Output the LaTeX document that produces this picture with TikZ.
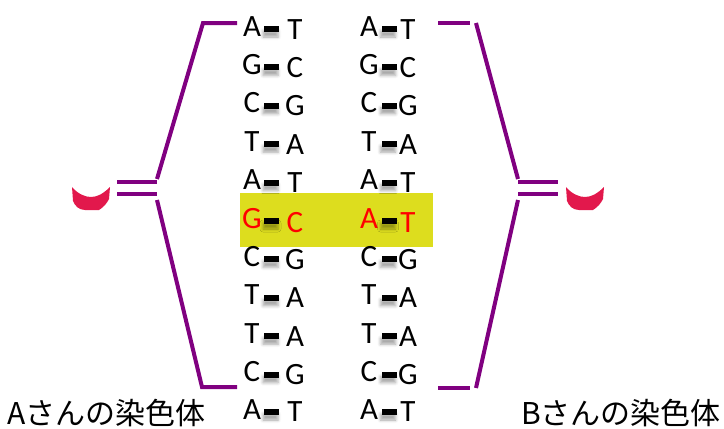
\documentclass[tikz,border=0pt]{standalone}
\usepackage{fontspec}
\setmainfont{Carlito}
\newfontfamily\jpfont{Noto Sans CJK JP}
\usetikzlibrary{shadows.blur}
\definecolor{bracketPurple}{RGB}{128,0,128}
\definecolor{crescentRed}{RGB}{226,24,76}
\definecolor{markYellow}{RGB}{221,221,30}

\begin{document}
\begin{tikzpicture}[x = 1pt, y = -1pt]
	\tikzstyle{baseStyle} = [inner sep = 0pt, text height = 20pt, text depth = 0pt, font = \fontsize{31}{36}\selectfont]
	\tikzstyle{redStyle} = [baseStyle, text = red]
	\tikzstyle{bondStyle} = [fill = black, inner sep = 0pt, minimum width = 15pt, minimum height = 6pt, blur shadow = {shadow xshift = -1pt, shadow yshift = -5pt, shadow blur radius = 3pt, shadow opacity = 35}]
	\tikzstyle{bracketStyle} = [draw = bracketPurple, line width = 4pt]
	\tikzstyle{labelStyle} = [inner sep = 0pt, font = \jpfont\fontsize{30}{36}\selectfont]
	\useasboundingbox (0,0) rectangle (724,429);
	\fill[markYellow] (240,193) rectangle (433,247);
	\draw[bracketStyle] (237,23) -- (203,23) -- (157,179);
	\draw[bracketStyle] (157,200) -- (202,387) -- (237,387);
	\draw[bracketStyle] (117,182) -- (157,182);
	\draw[bracketStyle] (117,194) -- (157,194);
	\draw[bracketStyle] (438,23) -- (470,23);
	\draw[bracketStyle] (476,23) -- (518,179);
	\draw[bracketStyle] (518,200) -- (476,388);
	\draw[bracketStyle] (438,388) -- (470,388);
	\draw[bracketStyle] (518,182) -- (558,182);
	\draw[bracketStyle] (518,194) -- (558,194);
	\fill[crescentRed] (72,187) -- (73,201) .. controls (75,206) and (79,210) .. (85,210) -- (99,210) .. controls (104,207) and (107,203) .. (109,199) -- (110,187) .. controls (103,194) and (97,197) .. (91,197) .. controls (85,197) and (78,194) .. (72,187) -- cycle;
	\fill[crescentRed, xshift = 494pt] (72,187) -- (73,201) .. controls (75,206) and (79,210) .. (85,210) -- (99,210) .. controls (104,207) and (107,203) .. (109,199) -- (110,187) .. controls (103,194) and (97,197) .. (91,197) .. controls (85,197) and (78,194) .. (72,187) -- cycle;
	\node[baseStyle] (aL1) at (252,26.0) {A};
	\node[bondStyle] (aB1) at (271.5,29.0) {};
	\node[baseStyle] (aR1) at (295,29.0) {T};
	\node[baseStyle] (aL2) at (252,64.4) {G};
	\node[bondStyle] (aB2) at (271.5,67.4) {};
	\node[baseStyle] (aR2) at (295,67.4) {C};
	\node[baseStyle] (aL3) at (252,102.8) {C};
	\node[bondStyle] (aB3) at (271.5,105.8) {};
	\node[baseStyle] (aR3) at (295,105.8) {G};
	\node[baseStyle] (aL4) at (252,141.2) {T};
	\node[bondStyle] (aB4) at (271.5,144.2) {};
	\node[baseStyle] (aR4) at (295,144.2) {A};
	\node[baseStyle] (aL5) at (252,179.6) {A};
	\node[bondStyle] (aB5) at (271.5,182.6) {};
	\node[baseStyle] (aR5) at (295,182.6) {T};
	\node[redStyle] (aL6) at (252,218.0) {G};
	\node[bondStyle] (aB6) at (271.5,221.0) {};
	\node[redStyle] (aR6) at (295,222.0) {C};
	\node[baseStyle] (aL7) at (252,256.4) {C};
	\node[bondStyle] (aB7) at (271.5,259.4) {};
	\node[baseStyle] (aR7) at (295,259.4) {G};
	\node[baseStyle] (aL8) at (252,294.8) {T};
	\node[bondStyle] (aB8) at (271.5,297.8) {};
	\node[baseStyle] (aR8) at (295,297.8) {A};
	\node[baseStyle] (aL9) at (252,333.2) {T};
	\node[bondStyle] (aB9) at (271.5,336.2) {};
	\node[baseStyle] (aR9) at (295,336.2) {A};
	\node[baseStyle] (aL10) at (252,371.6) {C};
	\node[bondStyle] (aB10) at (271.5,374.6) {};
	\node[baseStyle] (aR10) at (295,374.6) {G};
	\node[baseStyle] (aL11) at (252,409.0) {A};
	\node[bondStyle] (aB11) at (271.5,412.0) {};
	\node[baseStyle] (aR11) at (295,411.5) {T};
	\node[baseStyle] (bL1) at (369,26.0) {A};
	\node[bondStyle] (bB1) at (389,29.0) {};
	\node[baseStyle] (bR1) at (408,29.0) {T};
	\node[baseStyle] (bL2) at (369,64.4) {G};
	\node[bondStyle] (bB2) at (389,67.4) {};
	\node[baseStyle] (bR2) at (408,67.4) {C};
	\node[baseStyle] (bL3) at (369,102.8) {C};
	\node[bondStyle] (bB3) at (389,105.8) {};
	\node[baseStyle] (bR3) at (408,105.8) {G};
	\node[baseStyle] (bL4) at (369,141.2) {T};
	\node[bondStyle] (bB4) at (389,144.2) {};
	\node[baseStyle] (bR4) at (408,144.2) {A};
	\node[baseStyle] (bL5) at (369,179.6) {A};
	\node[bondStyle] (bB5) at (389,182.6) {};
	\node[baseStyle] (bR5) at (408,182.6) {T};
	\node[redStyle] (bL6) at (369,218.0) {A};
	\node[bondStyle] (bB6) at (389,221.0) {};
	\node[redStyle] (bR6) at (408,222.0) {T};
	\node[baseStyle] (bL7) at (369,256.4) {C};
	\node[bondStyle] (bB7) at (389,259.4) {};
	\node[baseStyle] (bR7) at (408,259.4) {G};
	\node[baseStyle] (bL8) at (369,294.8) {T};
	\node[bondStyle] (bB8) at (389,297.8) {};
	\node[baseStyle] (bR8) at (408,297.8) {A};
	\node[baseStyle] (bL9) at (369,333.2) {T};
	\node[bondStyle] (bB9) at (389,336.2) {};
	\node[baseStyle] (bR9) at (408,336.2) {A};
	\node[baseStyle] (bL10) at (369,371.6) {C};
	\node[bondStyle] (bB10) at (389,374.6) {};
	\node[baseStyle] (bR10) at (408,374.6) {G};
	\node[baseStyle] (bL11) at (369,409.0) {A};
	\node[bondStyle] (bB11) at (389,412.0) {};
	\node[baseStyle] (bR11) at (408,411.5) {T};
	\node[labelStyle, anchor = west] (chromA) at (7,413) {Aさんの染色体};
	\node[labelStyle, anchor = east] (chromB) at (721,413) {Bさんの染色体};
\end{tikzpicture}
\end{document}
